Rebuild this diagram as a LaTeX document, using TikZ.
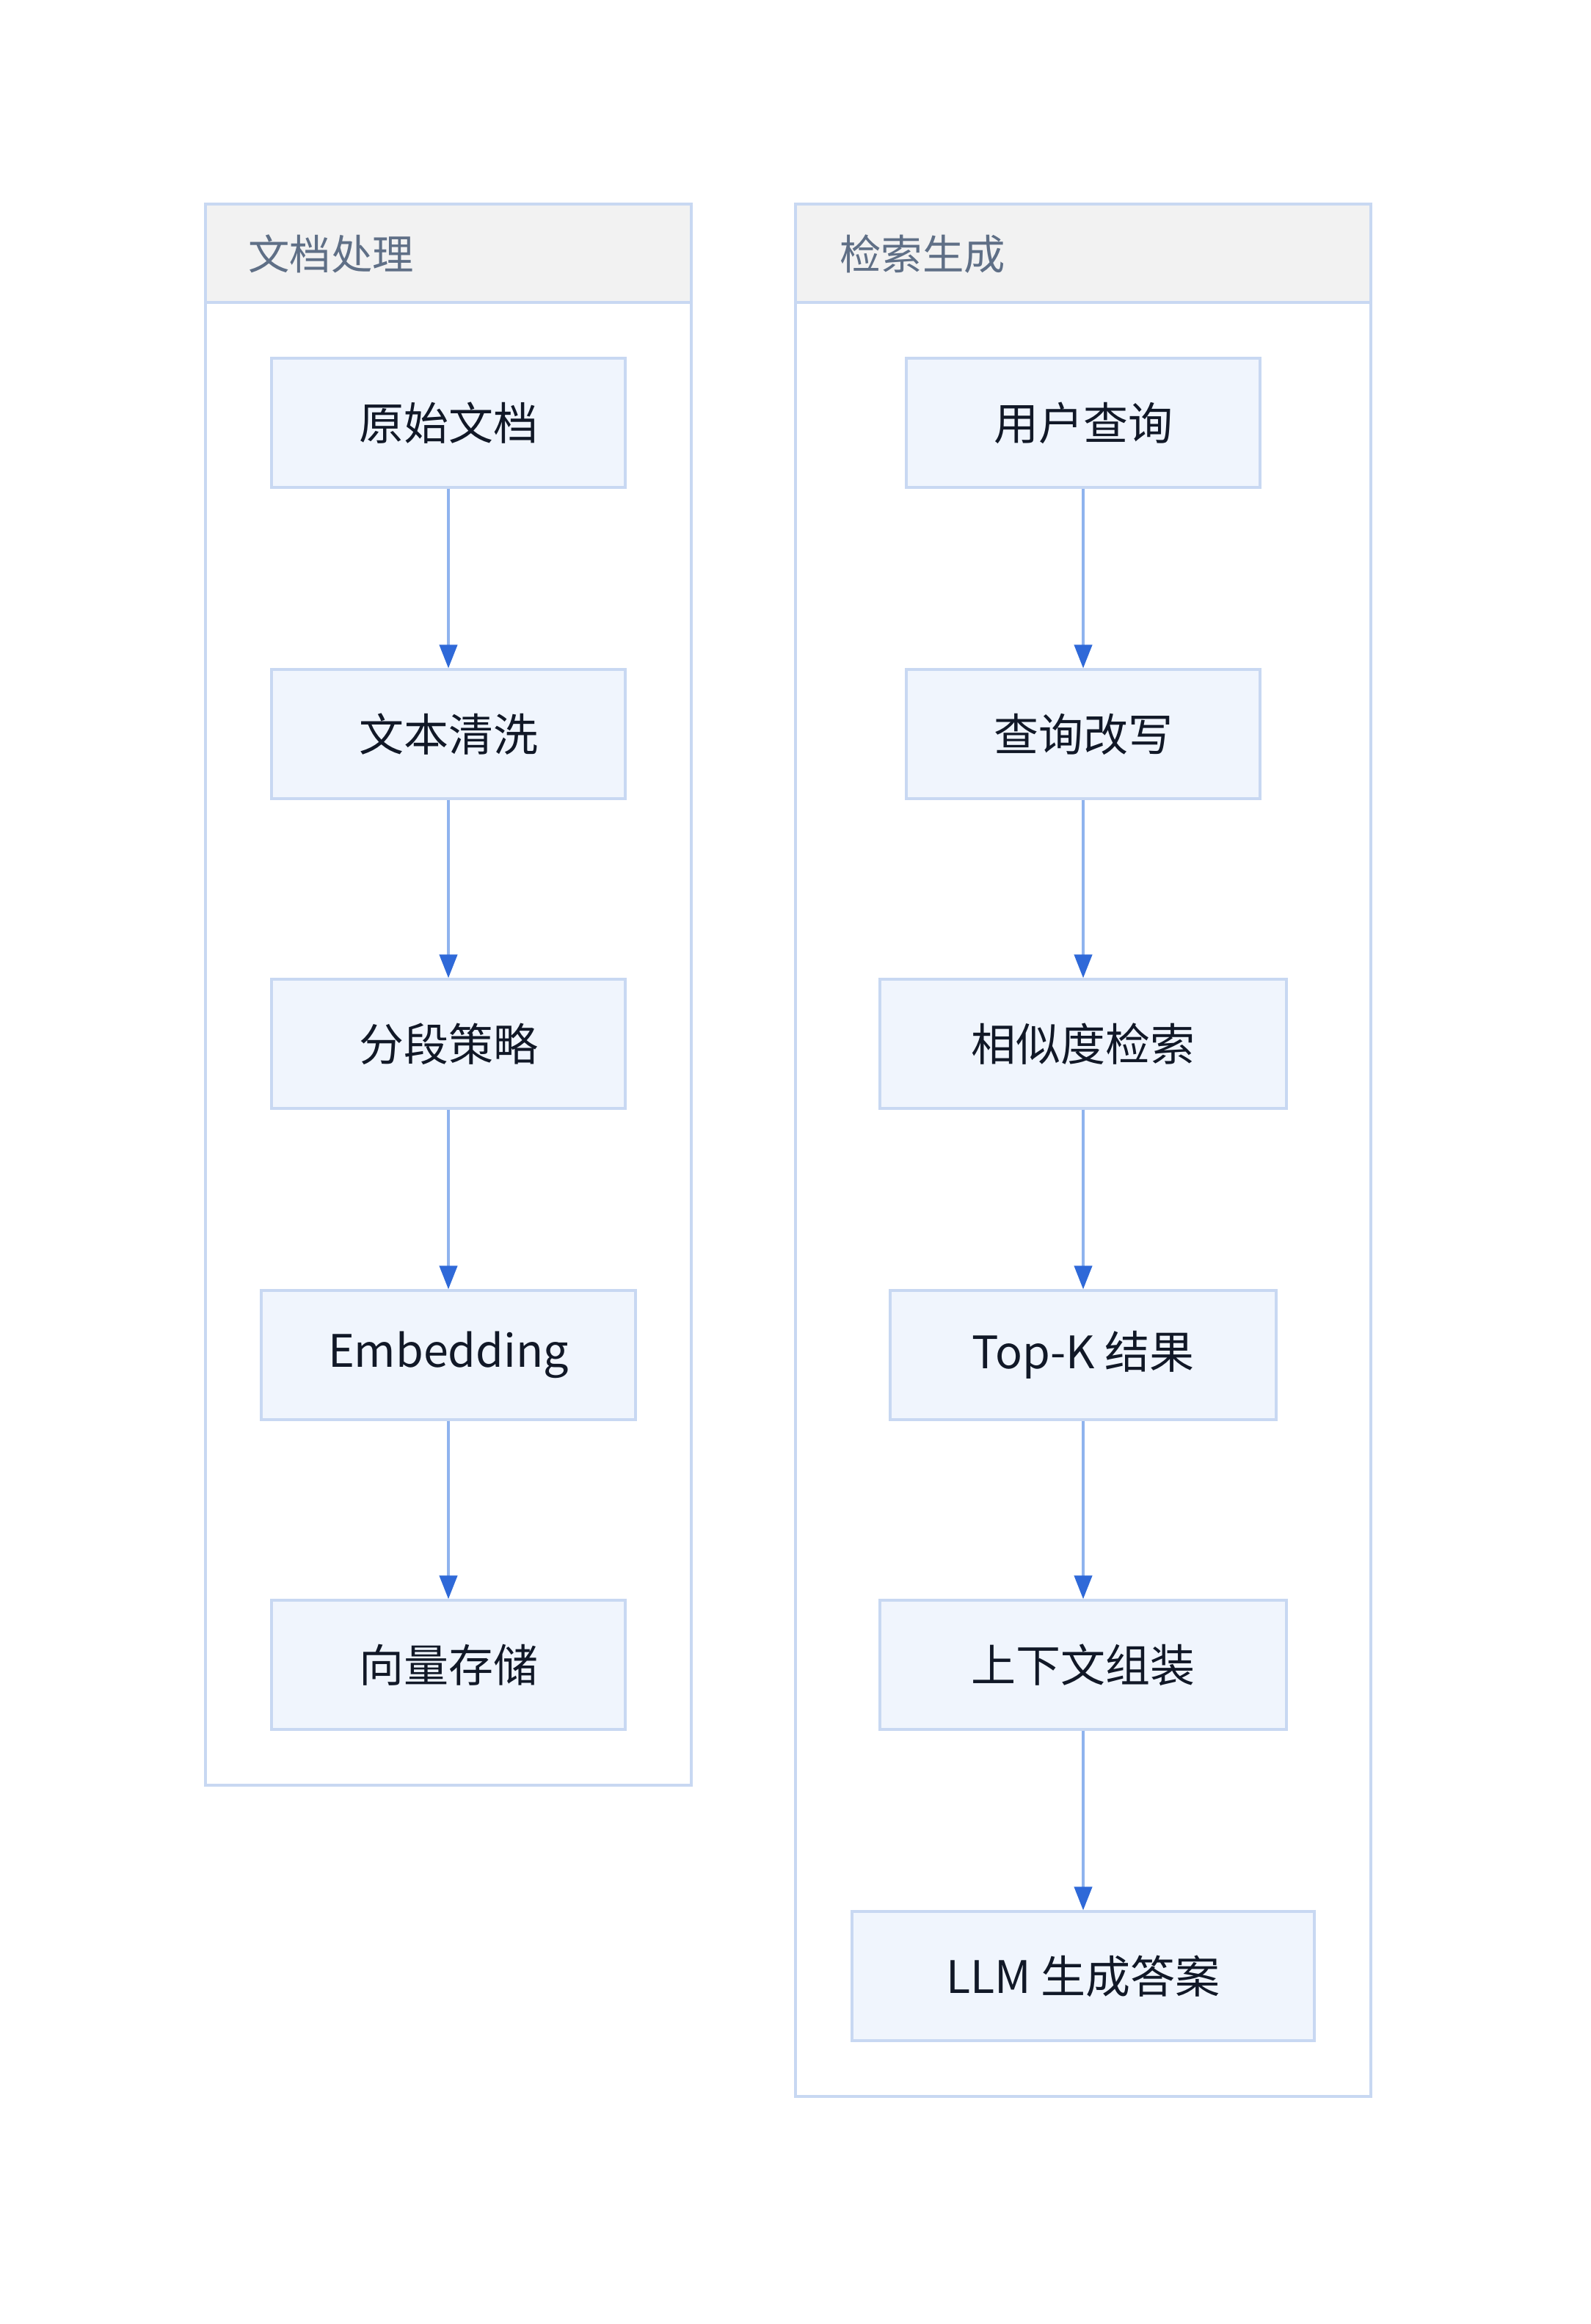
\documentclass[tikz,border=0pt]{standalone}
\usepackage{fontspec}
\setmainfont{Noto Sans CJK SC}
\usetikzlibrary{arrows.meta,positioning}

\definecolor{boxline}{HTML}{C8D8F2}
\definecolor{boxfill}{HTML}{F0F5FD}
\definecolor{headgray}{HTML}{F2F2F2}
\definecolor{titlegray}{HTML}{5F6F86}
\definecolor{ink}{HTML}{111827}
\definecolor{linkline}{HTML}{8FB3EE}
\definecolor{headblue}{HTML}{2F69D8}

\tikzset{
  stage/.style={draw=boxline, fill=boxfill, line width=1.6pt, minimum height=88pt,
    inner sep=0pt, text=ink, font=\fontsize{30.5}{33}\selectfont},
  flow/.style={draw=linkline, line width=2pt,
    -{Triangle[color=headblue,length=16pt,width=12pt]}},
  cluster/.style={draw=boxline, line width=1.6pt, fill=white},
  band/.style={draw=boxline, line width=1.6pt, fill=headgray},
  grouptitle/.style={anchor=west, text=titlegray, inner sep=0pt,
    font=\fontsize{28.2}{30}\selectfont}
}

\begin{document}
\begin{tikzpicture}[x=1pt,y=-1pt]
\useasboundingbox (0,0) rectangle (1084,1583);

% Left group: document processing
\draw[cluster] (140,139) rectangle (471,1216);
\draw[band] (140,139) rectangle (471,206);
\node[grouptitle] (docTitle) at (169,173) {文档处理};

% Right group: retrieval and generation
\draw[cluster] (542,139) rectangle (934,1428);
\draw[band] (542,139) rectangle (934,206);
\node[grouptitle] (genTitle) at (572,173) {检索生成};

% Left column of stages
\node[stage, minimum width=241pt] (raw)   at (305.5,288) {原始文档};
\node[stage, minimum width=241pt] (clean) at (305.5,500) {文本清洗};
\node[stage, minimum width=241pt] (chunk) at (305.5,711) {分段策略};
\node[stage, minimum width=255pt] (embed) at (305.5,923) {Embedding};
\node[stage, minimum width=241pt] (store) at (305.5,1134) {向量存储};

% Right column of stages
\node[stage, minimum width=241pt] (query)   at (738,288) {用户查询};
\node[stage, minimum width=241pt] (rewrite) at (738,500) {查询改写};
\node[stage, minimum width=277pt] (search)  at (738,711) {相似度检索};
\node[stage, minimum width=263pt] (topk)    at (738,923) {Top-K 结果};
\node[stage, minimum width=277pt] (context) at (738,1134) {上下文组装};
\node[stage, minimum width=315pt] (answer)  at (738,1346) {LLM 生成答案};

% Connectors
\foreach \a/\b in {raw/clean, clean/chunk, chunk/embed, embed/store,
                   query/rewrite, rewrite/search, search/topk, topk/context, context/answer} {
    \draw[flow] (\a.south) -- (\b.north);
}
\end{tikzpicture}
\end{document}
